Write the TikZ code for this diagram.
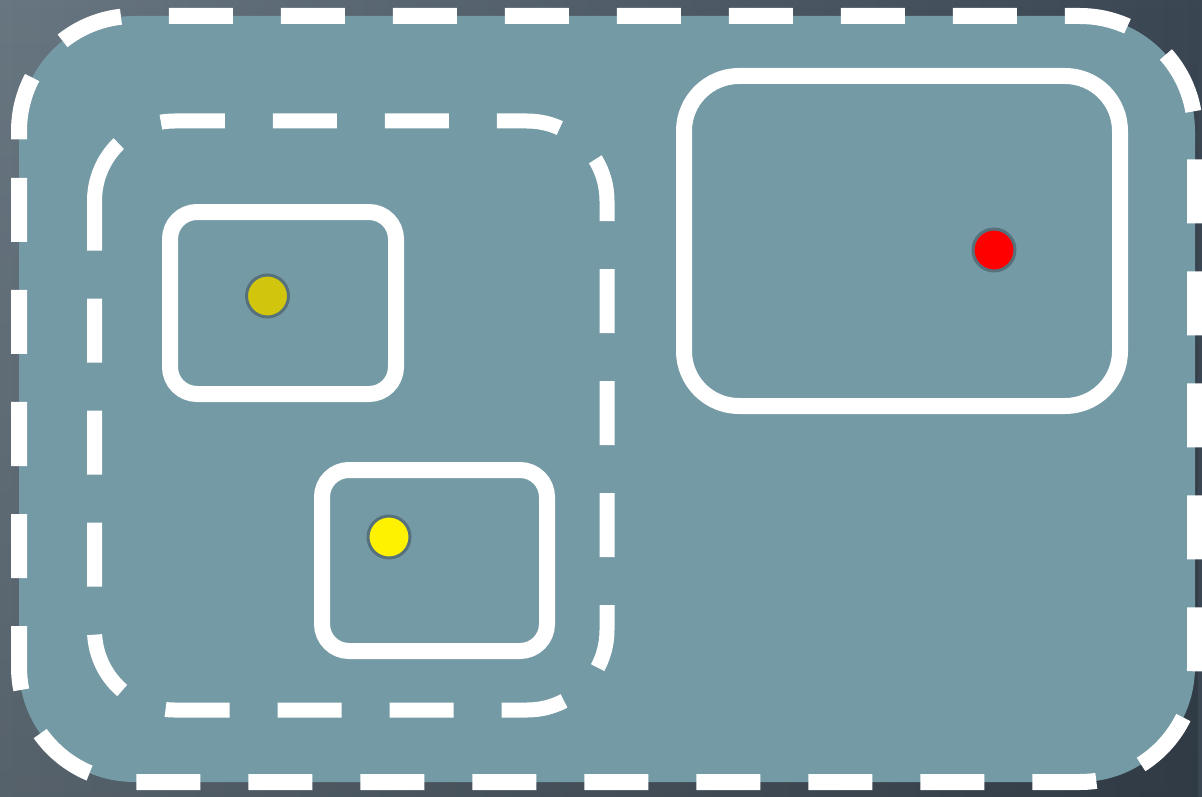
\documentclass[tikz,border=0pt]{standalone}
\usetikzlibrary{fadings}
\definecolor{bgL}{RGB}{104,118,129}
\definecolor{bgR}{RGB}{58,70,82}
\definecolor{panel}{RGB}{116,154,166}
\definecolor{dotline}{RGB}{86,113,124}
\definecolor{olive}{RGB}{209,198,13}
\tikzset{
  outerdash/.style={draw=white, line width=16pt, dash pattern=on 64pt off 48pt, dash phase=108.4pt, rounded corners=115pt},
  innerdash/.style={draw=white, line width=15pt, dash pattern=on 64pt off 48pt, rounded corners=80pt},
  boxshape/.style={draw=white, line width=16pt, rounded corners=27pt, rectangle, inner sep=0pt},
  dotshape/.style={circle, draw=dotline, line width=3pt, minimum size=42pt, inner sep=0pt}
}
\begin{document}
\begin{tikzpicture}[x=1pt,y=-1pt]
\useasboundingbox (0,0) rectangle (1202,797);
\shade[left color=bgL, right color=bgR] (0,0) rectangle (1202,797);
\fill[black, fill opacity=0.17, path fading=north] (0,0) rectangle (1202,797);
\fill[panel, rounded corners=115pt] (19,16) rectangle (1195,782);
\draw[outerdash] (19,143) -- (19,16) -- (1195,16) -- (1195,782) -- (19,782) -- (19,143);
\draw[innerdash] (94.5,201) -- (94.5,121) -- (607,121) -- (607,710) -- (94.5,710) -- (94.5,201);
\node[boxshape, minimum width=226pt, minimum height=182pt] (boxA) at (283,303) {};
\node[boxshape, minimum width=225pt, minimum height=181pt] (boxB) at (434.5,560.5) {};
\node[boxshape, rounded corners=55pt, minimum width=436pt, minimum height=330pt] (boxC) at (902,241) {};
\node[dotshape, fill=olive] (dotA) at (267.5,296) {};
\node[dotshape, fill=yellow] (dotB) at (389,537) {};
\node[dotshape, fill=red] (dotC) at (994,250) {};
\end{tikzpicture}
\end{document}
